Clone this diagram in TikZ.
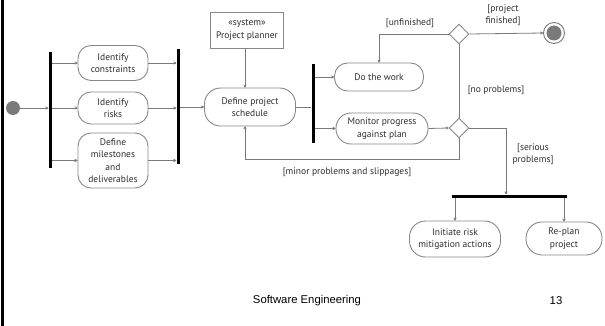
\documentclass[tikz,border=0pt]{standalone}
\usepackage{fontspec}
\setmainfont{PT Sans}
\newfontfamily\footfont{Liberation Sans}
\usetikzlibrary{shapes.geometric,arrows.meta}
\definecolor{txt}{HTML}{2E2E2E}
\definecolor{ln}{HTML}{7A7A7A}
\definecolor{bx}{HTML}{888888}
\tikzset{
  act/.style={draw=bx, line width=0.9pt, rounded corners=13pt, align=center, text=txt,
    font=\fontsize{9.5}{12.5}\selectfont, inner sep=1pt},
  sysbox/.style={draw=bx, line width=0.9pt, align=center, text=txt,
    font=\fontsize{9.5}{12.5}\selectfont, minimum width=73pt, minimum height=36pt, inner sep=1pt},
  vbar/.style={fill=black, draw=none, minimum width=3pt, inner sep=0pt},
  hbar/.style={fill=black, draw=none, minimum height=3pt, inner sep=0pt},
  dec/.style={diamond, draw=bx, line width=0.9pt, fill=white, minimum width=20pt, minimum height=20pt, inner sep=0pt},
  lbl/.style={align=center, text=txt, font=\fontsize{9.5}{12.5}\selectfont, inner sep=0pt},
  arr/.style={draw=ln, line width=0.8pt, -{To[length=3pt,width=3pt]}},
  con/.style={draw=ln, line width=0.8pt}
}
\begin{document}
\begin{tikzpicture}[x=1pt,y=-1pt]
\useasboundingbox (0,0) rectangle (605,326);
\fill[white] (0,0) rectangle (605,326);
\draw[line width=2.5pt, black] (2.5,0) -- (2.5,326);

% nodes
\node[circle, fill=ln, minimum size=14pt, inner sep=0pt] (init) at (13,108) {};
\node[vbar, minimum height=116pt] (bar1) at (50,110) {};
\node[act, minimum width=70pt, minimum height=35pt] (c1) at (113,63) {Identify\\constraints};
\node[act, minimum width=70pt, minimum height=32pt] (c2) at (113,108) {Identify\\risks};
\node[act, minimum width=70pt, minimum height=55pt] (c3) at (113,160.5) {Define\\milestones\\and\\deliverables};
\node[vbar, minimum height=115pt] (bar2) at (178,106.5) {};
\node[sysbox] (sys) at (247,30) {«system»\\Project planner};
\node[act, minimum width=91pt, minimum height=38pt, rounded corners=16pt] (sched) at (250,107) {Define project\\schedule};
\node[vbar, minimum height=79pt] (bar3) at (313,103.5) {};
\node[act, minimum width=89pt, minimum height=28pt] (work) at (379,77) {Do the work};
\node[act, minimum width=92pt, minimum height=31pt, rounded corners=15pt] (mon) at (382,128.5) {Monitor progress\\against plan};
\node[dec] (d1) at (459,34) {};
\node[dec] (d2) at (459,128) {};
\node[circle, draw=ln, line width=0.9pt, minimum size=21pt, inner sep=0pt] (fin) at (554,33) {};
\node[circle, fill=ln, minimum size=15pt, inner sep=0pt] (finin) at (fin.center) {};
\node[hbar, minimum width=115pt] (bar4) at (509.5,196) {};
\node[act, minimum width=91pt, minimum height=36pt, rounded corners=16pt] (risk) at (455,239) {Initiate risk\\mitigation actions};
\node[act, minimum width=76pt, minimum height=33pt, rounded corners=16pt] (replan) at (564,238.5) {Re-plan\\project};

% labels
\node[lbl] (lunf) at (410,23) {[unfinished]};
\node[lbl] (lfin) at (503,15) {[project\\finished]};
\node[lbl] (lnop) at (496,90) {[no problems]};
\node[lbl] (lser) at (533,154) {[serious\\problems]};
\node[lbl] (lmin) at (347,172) {[minor problems and slippages]};

% footer
\node[font=\footfont\fontsize{11.3}{13}\selectfont, inner sep=0pt] (foot) at (307,301) {Software Engineering};
\node[font=\footfont\fontsize{11.3}{13}\selectfont, inner sep=0pt] (page) at (556,301) {13};

% coordinates
\coordinate (fb) at (245,159);
\coordinate (sp) at (506,128);

% connectors
\draw[arr] (init.east) -- (bar1.west |- init);
\draw[arr] (bar1.east |- c1) -- (c1.west);
\draw[arr] (bar1.east |- c2) -- (c2.west);
\draw[arr] (bar1.east |- c3) -- (c3.west);
\draw[arr] (c1.east) -- (bar2.west |- c1);
\draw[arr] (c2.east) -- (bar2.west |- c2);
\draw[arr] (c3.east) -- (bar2.west |- c3);
\draw[arr] (bar2.east |- sched) -- (sched.west);
\draw[arr] (sys.south -| fb) -- (fb |- sched.north);
\draw[con] (sched.east) -- (bar3.west |- sched);
\draw[arr] (bar3.east |- work) -- (work.west);
\draw[arr] (bar3.east |- mon) -- (mon.west);
\draw[arr] (mon.east) -- (d2.west);
\draw[con] (d2.north) -- (d1.south);
\draw[arr] (d1.east) -- (fin.west);
\draw[arr] (d1.west) -| (work.north);
\draw[arr] (d2.south) |- (fb) -- (fb |- sched.south);
\draw[arr] (d2.east) -- (sp) -- (sp |- bar4.north);
\draw[arr] (risk.north |- bar4.south) -- (risk.north);
\draw[arr] (replan.north |- bar4.south) -- (replan.north);
\end{tikzpicture}
\end{document}
